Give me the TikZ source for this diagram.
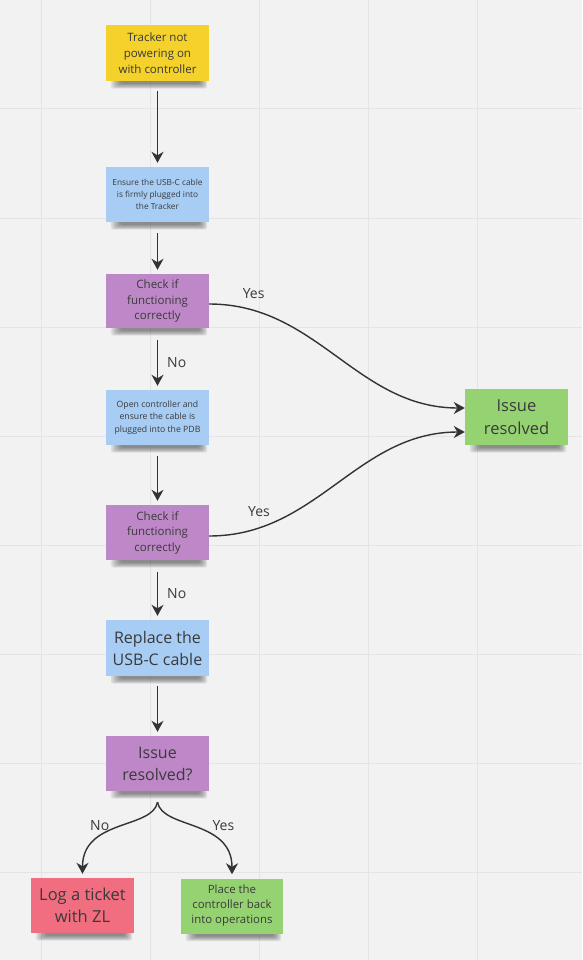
\documentclass[tikz,border=0pt]{standalone}
\usepackage{fontspec}
\setmainfont{Open Sans}
\usetikzlibrary{arrows.meta,calc}
\definecolor{bgc}{HTML}{F2F2F2}
\definecolor{gridc}{HTML}{E4E4E4}
\definecolor{txt}{HTML}{3A3A3A}
\definecolor{arr}{HTML}{333333}
\definecolor{cyellow}{HTML}{F5D12C}
\definecolor{cblue}{HTML}{A7CDF5}
\definecolor{cpurple}{HTML}{BE88C8}
\definecolor{cgreen}{HTML}{95D372}
\definecolor{cred}{HTML}{F16D80}
\definecolor{shadowc}{HTML}{202020}
\pgfdeclarelayer{grid}
\pgfdeclarelayer{shade}
\pgfsetlayers{grid,shade,main}
\newcommand\fs[2]{\fontsize{#1}{#2}\selectfont}
\newcommand\stkshadow[1]{%
  \begin{pgfonlayer}{shade}
  \foreach \k in {0,...,6} {
    \fill[shadowc, opacity=.085, rounded corners=2.5pt]
      ([xshift={5pt+1.6pt*\k},yshift=2pt]#1.south west) rectangle
      ([xshift={-2pt-1.2pt*\k},yshift={-7.5pt+0.8pt*\k}]#1.south east);
  }
  \end{pgfonlayer}}
\tikzset{
  sticky/.style={rectangle, minimum width=103pt, minimum height=55pt, inner sep=0pt, align=center, text=txt},
  flow/.style={draw=arr, line width=1.4pt, -{Stealth[length=11pt,width=12pt,inset=3.5pt]}},
  lbl/.style={font=\fs{14}{16}, text=txt, inner sep=0pt},
}
\begin{document}
\begin{tikzpicture}[x=1pt,y=-1pt]
\useasboundingbox (0,0) rectangle (582,960);
\begin{pgfonlayer}{grid}
\fill[bgc] (0,0) rectangle (582,960);
\foreach \gx in {41,150,259,368,477} \draw[gridc, line width=1pt] (\gx,0) -- (\gx,960);
\foreach \gy in {109,218,327,436,545,654,763,872} \draw[gridc, line width=1pt] (0,\gy) -- (582,\gy);
\end{pgfonlayer}

\node[sticky, fill=cyellow, minimum height=56pt, font=\fs{11.5}{16}] (start) at (157.5,53) {Tracker not\\powering on\\with controller};
\node[sticky, fill=cblue, font=\fs{8.3}{12}] (ensure) at (157.5,194.5) {Ensure the USB-C cable\\is firmly plugged into\\the Tracker};
\node[sticky, fill=cpurple, minimum height=54pt, font=\fs{11.5}{15.5}] (chk1) at (157.5,301) {Check if\\functioning\\correctly};
\node[sticky, fill=cblue, font=\fs{8.7}{12.5}] (open) at (157.5,417.5) {Open controller and\\ensure the cable is\\plugged into the PDB};
\node[sticky, fill=cpurple, font=\fs{11.5}{15.5}] (chk2) at (157.5,532.5) {Check if\\functioning\\correctly};
\node[sticky, fill=cblue, minimum height=56pt, font=\fs{16}{22}] (repl) at (157.5,648) {Replace the\\USB-C cable};
\node[sticky, fill=cpurple, font=\fs{16}{22}] (rq) at (157.5,763.5) {Issue\\resolved?};
\node[sticky, fill=cgreen, minimum height=56pt, font=\fs{16.5}{23}] (res) at (516.5,417) {Issue\\resolved};
\node[sticky, fill=cred, font=\fs{16.5}{22}] (log) at (82.5,905.5) {Log a ticket\\with ZL};
\node[sticky, fill=cgreen, minimum width=102pt, font=\fs{11.4}{15}] (place) at (232,906) {Place the\\controller back\\into operations};

\foreach \n in {start,ensure,chk1,open,chk2,repl,rq,res,log,place} {\stkshadow{\n}}

\draw[flow, shorten <=10pt, shorten >=4pt] (start) -- (ensure);
\draw[flow, shorten <=11pt, shorten >=4pt] (ensure) -- (chk1);
\draw[flow, shorten <=12pt, shorten >=4pt] (chk1) -- node[lbl, right=9pt, yshift=-4pt] {No} (open);
\draw[flow, shorten <=11pt, shorten >=4pt] (open) -- (chk2);
\draw[flow, shorten <=12pt, shorten >=4pt] (chk2) -- node[lbl, right=9pt, yshift=-4pt] {No} (repl);
\draw[flow, shorten <=10pt, shorten >=4pt] (repl) -- (rq);

\draw[flow] ([yshift=-3pt]chk1.east) .. controls +(108,0) and +(-108,0) .. node[lbl, pos=.15, above=11pt] {Yes} ([yshift=9pt]res.west);
\draw[flow] ([yshift=-3.5pt]chk2.east) .. controls +(108,0) and +(-108,0) .. node[lbl, pos=.17, above=11pt] {Yes} ([yshift=-15pt]res.west);

\draw[flow] ([yshift=-11pt]rq.south) .. controls +(-5,27) and +(0,-55) .. node[lbl, pos=.4, left=19pt, yshift=-2pt] {No} ([yshift=4pt]log.north);
\draw[flow] ([yshift=-11pt]rq.south) .. controls +(5,27) and +(0,-55) .. node[lbl, pos=.4, right=26pt, yshift=-2pt] {Yes} ([yshift=4pt]place.north);
\end{tikzpicture}
\end{document}
